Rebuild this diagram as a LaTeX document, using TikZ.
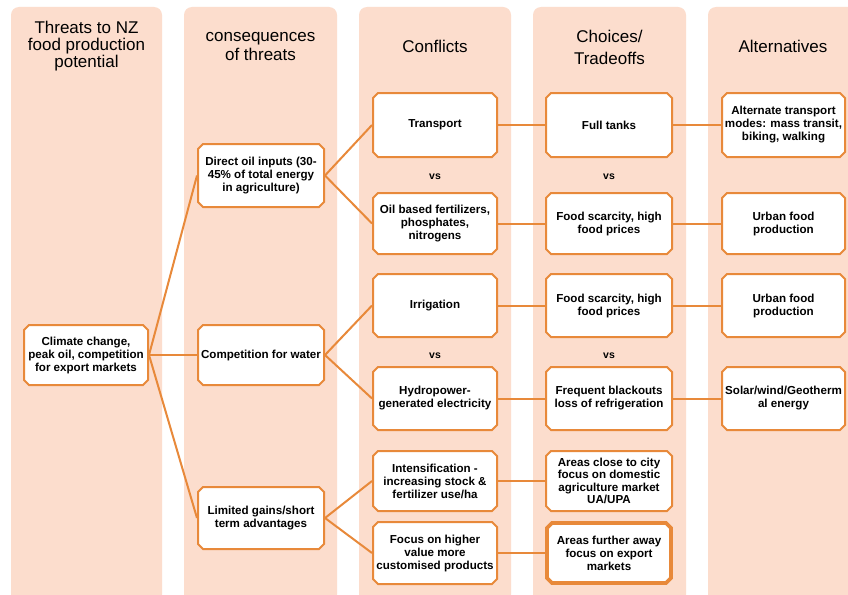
\documentclass[tikz,border=0pt]{standalone}
\usepackage{fontspec}
\setmainfont{Liberation Sans}
\usetikzlibrary{shapes.misc}
\definecolor{colfill}{HTML}{FCDDCD}
\definecolor{edge}{HTML}{E8893A}
\tikzset{
  column/.style={fill=colfill, rounded corners=8pt},
  header/.style={align=center, inner sep=0pt, font=\fontsize{17}{17}\selectfont},
  box/.style={chamfered rectangle, chamfered rectangle xsep=2.5pt, chamfered rectangle ysep=2.5pt,
    draw=edge, line width=2pt, fill=white, inner sep=0pt, align=center,
    font=\fontsize{11.6}{13}\selectfont\bfseries},
  wide/.style={line width=3.6pt},
  vslabel/.style={inner sep=0pt, font=\fontsize{10.5}{12}\selectfont\bfseries},
  link/.style={draw=edge, line width=2pt}
}
\begin{document}
\begin{tikzpicture}[x=1pt, y=-1pt]
\useasboundingbox (0,0) rectangle (848,594);
\clip (0,0) rectangle (848,594);
\fill[white] (0,0) rectangle (848,594);

% column backgrounds
\fill[column] (11,620) -- (11,7) -- (162,7) -- (162,620) -- cycle;
\fill[column] (184,620) -- (184,7) -- (337,7) -- (337,620) -- cycle;
\fill[column] (359,620) -- (359,7) -- (511,7) -- (511,620) -- cycle;
\fill[column] (533,620) -- (533,7) -- (686,7) -- (686,620) -- cycle;
\fill[column] (708,620) -- (708,7) -- (870,7) -- (870,620) -- cycle;

% column headings
\node[header] (h1) at (86.5,46) {Threats to NZ\\food production\\potential};
\node[header, font=\fontsize{17}{19}\selectfont] (h2) at (260.5,46.5) {consequences\\of threats};
\node[header] (h3) at (435,46) {Conflicts};
\node[header, font=\fontsize{17}{22}\selectfont] (h4) at (609.5,47) {Choices/\\Tradeoffs};
\node[header] (h5) at (783,46) {Alternatives};

% threats
\node[box, minimum width=124pt, minimum height=60pt] (clim) at (86,355)
  {Climate change,\\peak oil, competition\\for export markets};

% consequences
\node[box, minimum width=126pt, minimum height=63pt] (oil) at (261,175.5)
  {Direct oil inputs (30-\\45\% of total energy\\in agriculture)};
\node[box, minimum width=126pt, minimum height=60pt] (water) at (261,355)
  {Competition for water};
\node[box, minimum width=126pt, minimum height=62pt] (limit) at (261,518)
  {Limited gains/short\\term advantages};

% conflicts
\node[box, minimum width=124pt, minimum height=64pt] (trans) at (435,125) {Transport};
\node[box, minimum width=124pt, minimum height=61pt] (fert) at (435,223.5)
  {Oil based fertilizers,\\phosphates,\\nitrogens};
\node[box, minimum width=124pt, minimum height=63pt] (irrig) at (435,305.5) {Irrigation};
\node[box, minimum width=124pt, minimum height=63pt] (hydro) at (435,398.5)
  {Hydropower-\\generated electricity};
\node[box, minimum width=124pt, minimum height=60pt] (intens) at (435,481)
  {Intensification -\\increasing stock \&\\fertilizer use/ha};
\node[box, minimum width=124pt, minimum height=62pt] (focus) at (435,553)
  {Focus on higher\\value more\\customised products};

% choices / tradeoffs
\node[box, minimum width=126pt, minimum height=64pt] (tanks) at (609,125) {Full tanks};
\node[box, minimum width=126pt, minimum height=61pt] (scar1) at (609,223.5)
  {Food scarcity, high\\food prices};
\node[box, minimum width=126pt, minimum height=63pt] (scar2) at (609,305.5)
  {Food scarcity, high\\food prices};
\node[box, minimum width=126pt, minimum height=63pt] (black) at (609,398.5)
  {Frequent blackouts\\loss of refrigeration};
\node[box, minimum width=126pt, minimum height=60pt, font=\fontsize{11.6}{12.2}\selectfont\bfseries] (close) at (609,481)
  {Areas close to city\\focus on domestic\\agriculture market\\UA/UPA};
\node[box, wide, minimum width=124pt, minimum height=60pt] (far) at (609,553)
  {Areas further away\\focus on export\\markets};

% alternatives
\node[box, minimum width=123pt, minimum height=64pt] (alt) at (783.5,125)
  {Alternate transport\\modes: mass transit,\\biking, walking};
\node[box, minimum width=123pt, minimum height=61pt] (urb1) at (783.5,223.5)
  {Urban food\\production};
\node[box, minimum width=123pt, minimum height=63pt] (urb2) at (783.5,305.5)
  {Urban food\\production};
\node[box, minimum width=123pt, minimum height=63pt] (solar) at (783.5,398.5)
  {Solar/wind/Geotherm\\al energy};

% vs labels
\node[vslabel] (vs1) at (435,177) {vs};
\node[vslabel] (vs2) at (609,177) {vs};
\node[vslabel] (vs3) at (435,356) {vs};
\node[vslabel] (vs4) at (609,356) {vs};

% connectors
\draw[link] (clim.east) -- (oil.west);
\draw[link] (clim.east) -- (water.west);
\draw[link] (clim.east) -- (limit.west);
\draw[link] (oil.east) -- (trans.west);
\draw[link] (oil.east) -- (fert.west);
\draw[link] (water.east) -- (irrig.west);
\draw[link] (water.east) -- (hydro.west);
\draw[link] (limit.east) -- (intens.west);
\draw[link] (limit.east) -- (focus.west);
\draw[link] (trans.east) -- (tanks.west);
\draw[link] (tanks.east) -- (alt.west);
\draw[link] (fert.east) -- (scar1.west);
\draw[link] (scar1.east) -- (urb1.west);
\draw[link] (irrig.east) -- (scar2.west);
\draw[link] (scar2.east) -- (urb2.west);
\draw[link] (hydro.east) -- (black.west);
\draw[link] (black.east) -- (solar.west);
\draw[link] (intens.east) -- (close.west);
\draw[link] (focus.east) -- (far.west);
\end{tikzpicture}
\end{document}
